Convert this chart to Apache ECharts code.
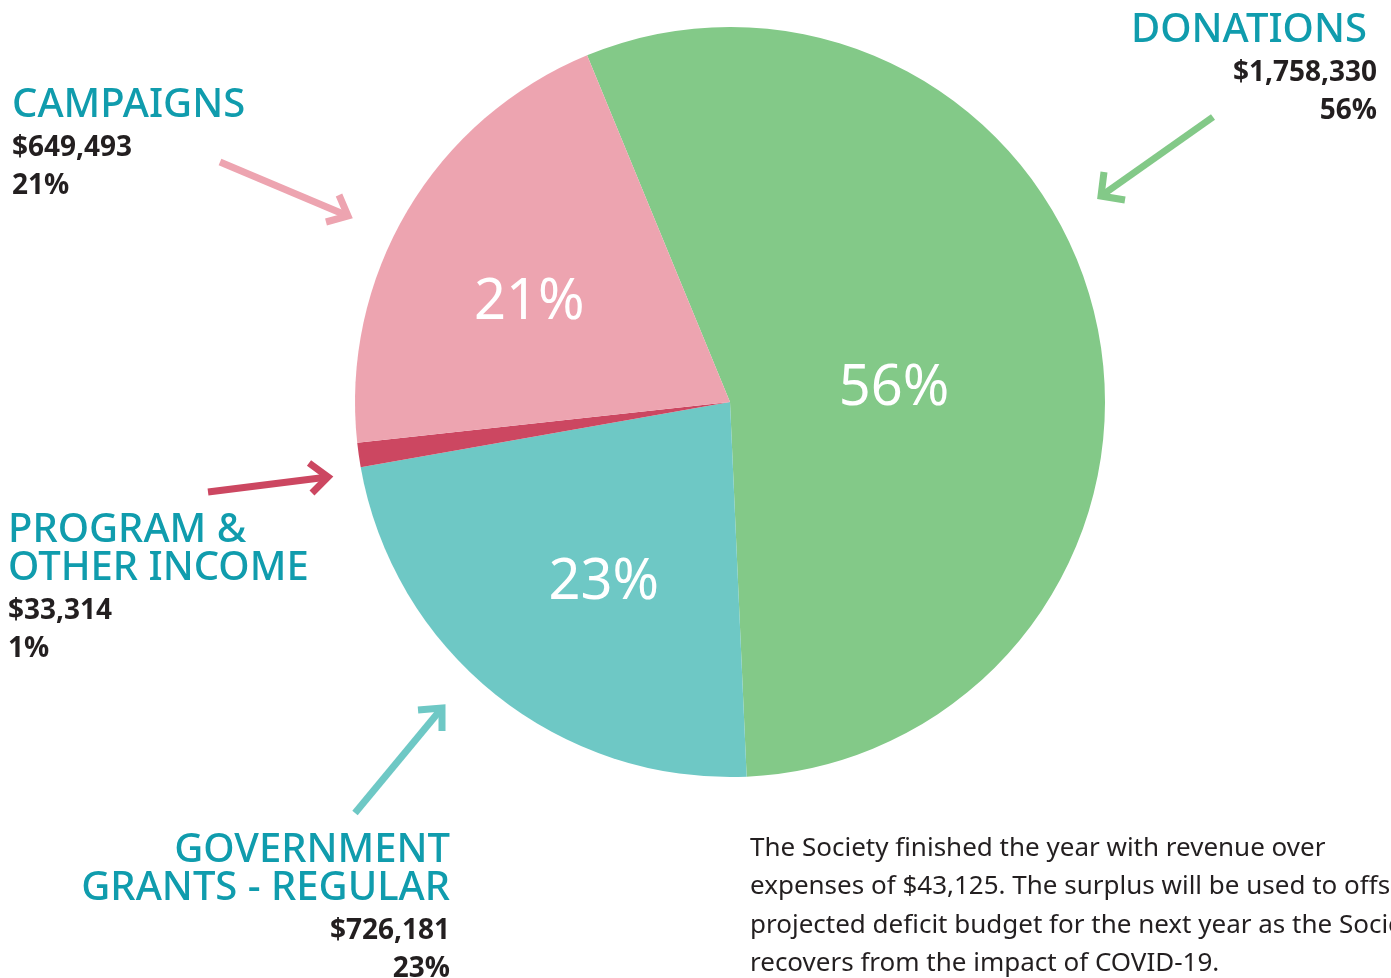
<!DOCTYPE html>
<html>
<head>
<meta charset="utf-8">
<title>Revenue</title>
<script src="https://cdn.jsdelivr.net/npm/echarts@6/dist/echarts.min.js"></script>
<style>
  html, body { margin: 0; padding: 0; background: #fff; }
  #revenue_pie { width: 1391px; height: 978px; }
</style>
</head>
<body>
<div id="revenue_pie"></div>
<script>
// Revenue breakdown pie
var names = ['DONATIONS', 'GOVERNMENT\nGRANTS - REGULAR', 'PROGRAM &\nOTHER INCOME', 'CAMPAIGNS'];
var amounts = [1758330, 726181, 33314, 649493];
var percents = ['56%', '23%', '1%', '21%'];
var colors = ['#83c988', '#6ec8c5', '#cc4761', '#eda4b0'];
var note = 'The Society finished the year with revenue over\n' +
    'expenses of $43,125. The surplus will be used to offset the\n' +
    'projected deficit budget for the next year as the Society\n' +
    'recovers from the impact of COVID-19.';

var dom = document.getElementById('revenue_pie');
var myChart_revenue = echarts.init(dom);

function money(v) {
    return '$' + v.toString().replace(/\B(?=(\d{3})+(?!\d))/g, ',');
}

// where each outside caption sits, and its arrow
var captions = [
    { x: 1367, y: 12, align: 'right', vx: 1377, arrow: [[1213, 117], [1101, 196]], head: [[1104, 172], [1101, 196], [1125, 200]] },
    { x: 450, y: 832, align: 'right', vx: 450, arrow: [[355, 813], [442, 708]], head: [[418, 710], [442, 708], [442, 731]] },
    { x: 8, y: 512, align: 'left', vx: 8, arrow: [[208, 492], [328, 477]], head: [[309, 463], [328, 477], [312, 493]] },
    { x: 12, y: 87, align: 'left', vx: 12, arrow: [[220, 162], [348, 216]], head: [[339, 195], [348, 216], [326, 222]] }
];
// small nudges for the percent labels inside the slices
var labelNudge = [[-22, 28], [-7, 32], [0, 0], [-37, -2]];

var graphics = [];
names.forEach(function (n, i) {
    var c = captions[i];
    var lines = n.split('\n').length;
    graphics.push({
        type: 'text', x: c.x, y: c.y,
        style: {
            text: n, align: c.align, verticalAlign: 'top',
            fill: '#109cad', font: '500 40px "Noto Sans"', lineHeight: 38
        }
    });
    graphics.push({
        type: 'text', x: c.vx, y: c.y + lines * 38 + 4,
        style: {
            text: money(amounts[i]) + '\n' + percents[i], align: c.align, verticalAlign: 'top',
            fill: '#231f20', font: '700 28px "Open Sans"', lineHeight: 38
        }
    });
    graphics.push({
        type: 'polyline', shape: { points: c.arrow },
        style: { stroke: colors[i], lineWidth: 7, fill: null, lineCap: 'butt' }
    });
    graphics.push({
        type: 'polyline', shape: { points: c.head },
        style: { stroke: colors[i], lineWidth: 7, fill: null, lineCap: 'butt', lineJoin: 'miter' }
    });
});
graphics.push({
    type: 'text', x: 750, y: 829,
    style: {
        text: note, align: 'left', verticalAlign: 'top',
        fill: '#231f20', font: '400 26px "Noto Sans"', lineHeight: 38.5
    }
});

var option = {
    animation: false,
    backgroundColor: '#ffffff',
    graphic: graphics,
    series: [
        {
            type: 'pie',
            center: [730, 402],
            radius: [0, 375],
            startAngle: 112.4,
            clockwise: true,
            avoidLabelOverlap: false,
            labelLine: { show: false },
            label: {
                show: true,
                position: 'inside',
                color: '#ffffff',
                fontFamily: 'Noto Sans',
                fontSize: 56,
                fontWeight: 400,
                formatter: function (p) {
                    return p.percent < 5 ? '' : percents[p.dataIndex];
                }
            },
            labelLayout: function (p) {
                var d = labelNudge[p.dataIndex];
                return { dx: d[0], dy: d[1] };
            },
            itemStyle: { borderWidth: 0 },
            data: amounts.map(function (v, i) {
                return { value: v, name: names[i], itemStyle: { color: colors[i] } };
            })
        }
    ]
};

if (option && typeof option === 'object') {
    myChart_revenue.setOption(option);
}
</script>
</body>
</html>
